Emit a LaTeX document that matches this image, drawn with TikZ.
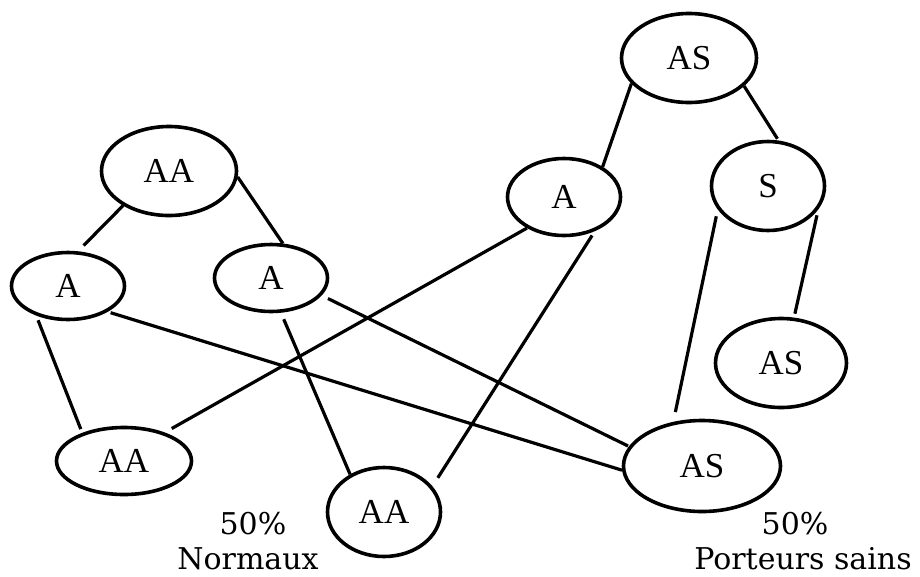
\documentclass[tikz,border=0pt]{standalone}
\usepackage{fontspec}
\setmainfont{Liberation Serif}
\newfontfamily\labfont{DejaVu Serif}
\usetikzlibrary{shapes.geometric}
\begin{document}
\begin{tikzpicture}[x=1pt,y=-1pt,
  geno/.style={ellipse,draw,line width=3.6pt,inner sep=0pt,font=\fontsize{35}{35}\selectfont},
  link/.style={line width=3.2pt},
  lab/.style={anchor=base,inner sep=0pt,font=\labfont\fontsize{30}{30}\selectfont}]
\useasboundingbox (0,0) rectangle (920,576);
% nodes
\node[geno,minimum width=135pt,minimum height=89pt] (aat) at (169,171) {AA};
\node[geno,minimum width=113pt,minimum height=67pt] (al) at (68,286) {A};
\node[geno,minimum width=113pt,minimum height=67pt] (am) at (271,278) {A};
\node[geno,minimum width=135pt,minimum height=89pt] (ast) at (689,58) {AS};
\node[geno,minimum width=113pt,minimum height=77pt] (ar) at (564,197) {A};
\node[geno,minimum width=113pt,minimum height=89pt] (s) at (768,186) {S};
\node[geno,minimum width=131pt,minimum height=89pt] (asr) at (781,363) {AS};
\node[geno,minimum width=135pt,minimum height=67pt] (aab) at (124,461) {AA};
\node[geno,minimum width=113pt,minimum height=89pt] (aam) at (384,512) {AA};
\node[geno,minimum width=157pt,minimum height=91pt] (asbr) at (702,466) {AS};
% connectors
\draw[link,shorten >=8pt] (aat.217) -- (al.74);
\draw[link] (aat.-5) -- (am.71);
\draw[link,shorten <=5pt,shorten >=4pt] (al.223) -- (aab.146);
\draw[link,shorten <=3pt] (al.-33) -- (asbr.183);
\draw[link,shorten <=7pt] (am.-74) -- (aam.132);
\draw[link,shorten <=7pt,shorten >=1pt] (am.-19) -- (asbr.165);
\draw[link,shorten >=8pt] (ar.220) -- (aab.35);
\draw[link,shorten <=5pt,shorten >=10pt] (ar.-48) -- (aam.28);
\draw[link] (ast.204) -- (ar.38);
\draw[link,shorten >=2pt] (ast.-27) -- (s.77);
\draw[link,shorten <=7pt,shorten >=10pt] (s.205) -- (asbr.123);
\draw[link,shorten <=6pt,shorten >=4pt] (s.-25) -- (asr.74);
% labels
\node[lab] (p1) at (253,534) {50\%};
\node[lab] (n1) at (248,569) {Normaux};
\node[lab] (p2) at (795,534) {50\%};
\node[lab] (n2) at (803,569) {Porteurs sains};
\end{tikzpicture}
\end{document}
